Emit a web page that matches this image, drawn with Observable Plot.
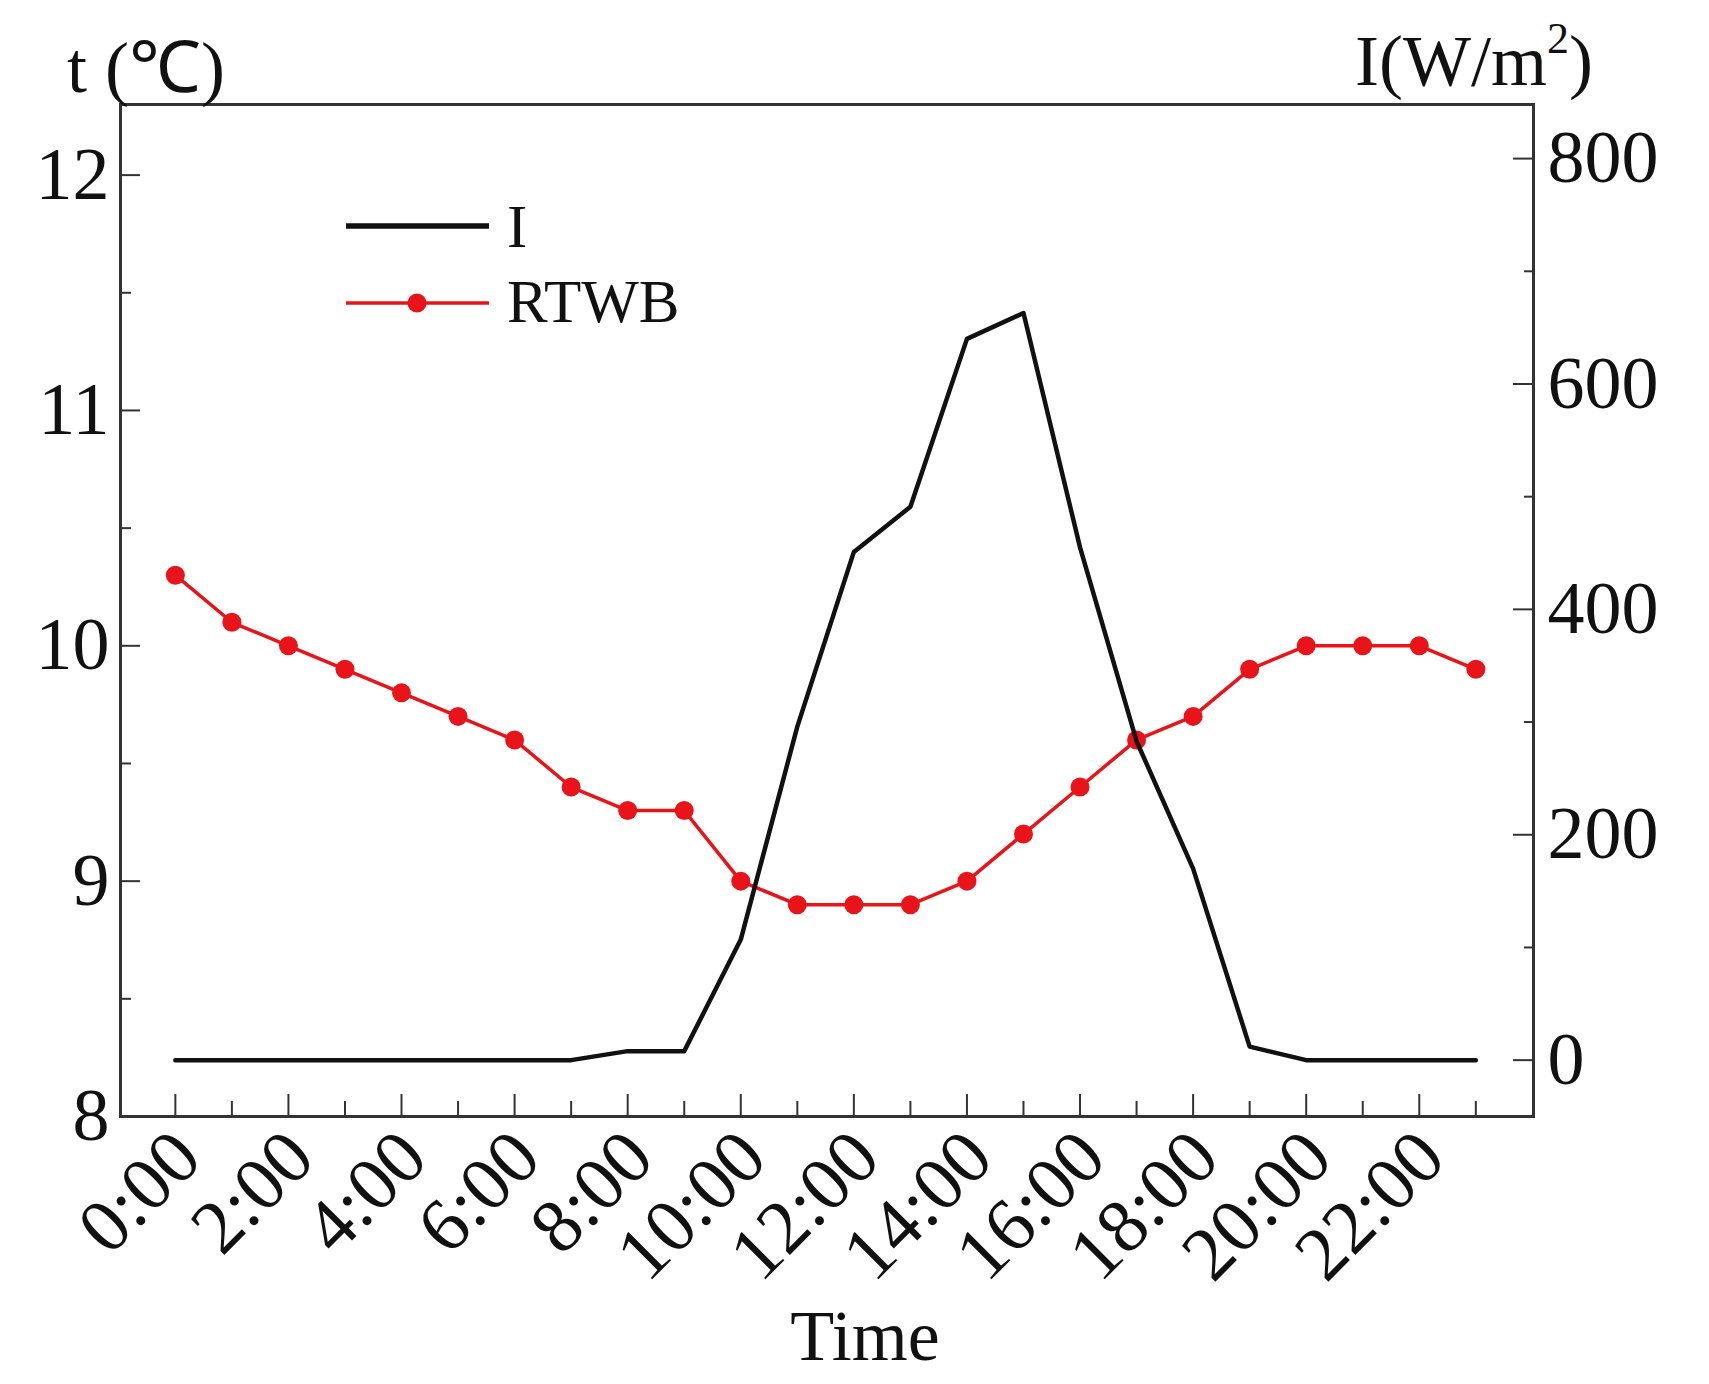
<!DOCTYPE html>
<html>
<head>
<meta charset="utf-8">
<script src="https://cdn.jsdelivr.net/npm/d3@7"></script>
<script src="https://cdn.jsdelivr.net/npm/@observablehq/plot@0.6"></script>
<style>
  body { margin: 0; background: #fff; }
  #chart svg { overflow: visible; }
</style>
</head>
<body>
<div id="chart"></div>
<script>
// hourly readings
const hours = d3.range(24)
const timeLabels = ["0:00", "2:00", "4:00", "6:00", "8:00", "10:00", "12:00", "14:00", "16:00", "18:00", "20:00", "22:00"]
const rtwb = [10.3, 10.1, 10.0, 9.9, 9.8, 9.7, 9.6, 9.4, 9.3, 9.3, 9.0, 8.9, 8.9, 8.9, 9.0, 9.2, 9.4, 9.6, 9.7, 9.9, 10.0, 10.0, 10.0, 9.9]
const irr = [0, 0, 0, 0, 0, 0, 0, 0, 8, 8, 107, 296, 451, 491, 640, 663, 455, 283, 170, 12, 0, 0, 0, 0]

const tTicks = [8, 9, 10, 11, 12]
const tMinor = [8.5, 9.5, 10.5, 11.5]
const iTicks = [0, 200, 400, 600, 800]
const iMinor = [100, 300, 500, 700]

// right axis (I) mapped onto the left (t) scale
const tDomain = [8, 12.3]
const toT = d3.scaleLinear().domain([-50, 848]).range(tDomain)

const red = '#e8141a'
const ink = '#111'
const evenHours = hours.filter(h => h % 2 == 0)
const oddHours = hours.filter(h => h % 2 == 1)

let chart = Plot.plot({
  width: 1709,
  height: 1384,
  marginLeft: 120,
  marginRight: 176,
  marginTop: 104,
  marginBottom: 268,
  style: {fontFamily: '"Liberation Serif", "Times New Roman", serif', fontSize: '74px', color: ink, background: '#fff'},
  x: {domain: [-0.97, 24.02], label: null},
  y: {domain: tDomain, label: null},
  marks: [
    // bottom ticks, inward
    Plot.axisX(evenHours, {tickSize: -22, tickFormat: () => '', label: null, stroke: '#333', strokeWidth: 2}),
    Plot.axisX(oddHours, {tickSize: -15, tickFormat: () => '', label: null, stroke: '#333', strokeWidth: 2}),
    Plot.axisX(evenHours, {
      tickSize: 0, tickPadding: 28, tickRotate: -45, label: null, fontSize: 76, dx: 12,
      tickFormat: h => timeLabels[h / 2]
    }),
    // left axis
    Plot.axisY(tTicks, {tickSize: -20, tickPadding: 31, label: null, tickFormat: d => String(d), stroke: '#333', strokeWidth: 2}),
    Plot.axisY(tMinor, {tickSize: -11, tickFormat: () => '', label: null, stroke: '#333', strokeWidth: 2}),
    // right axis
    Plot.axisY(iTicks.map(toT), {
      anchor: 'right', tickSize: -21, tickPadding: 35, label: null,
      tickFormat: d => String(Math.round(toT.invert(d)) + 0), stroke: '#333', strokeWidth: 2
    }),
    Plot.axisY(iMinor.map(toT), {anchor: 'right', tickSize: -10, tickFormat: () => '', label: null, stroke: '#333', strokeWidth: 2}),
    Plot.frame({stroke: '#333', strokeWidth: 3}),
    Plot.line(hours, {x: h => h, y: h => rtwb[h], stroke: red, strokeWidth: 3.5}),
    Plot.dot(hours, {x: h => h, y: h => rtwb[h], r: 9.5, fill: red}),
    Plot.line(hours, {x: h => h, y: h => toT(irr[h]), stroke: ink, strokeWidth: 4.5}),
  ],
})

const svg = d3.select(chart)
const txt = (x, y, s, size) => svg.append('text')
  .attr('x', x).attr('y', y).attr('font-size', size).attr('fill', ink)
  .attr('text-anchor', 'start').text(s)

// axis titles
txt(67, 92, 't (\u2103)', 72)
let it = txt(1355, 85, 'I(W/m', 72)
it.append('tspan').attr('font-size', 44).attr('dy', -32).text('2')
it.append('tspan').attr('dy', 32).text(')')
txt(865, 1360, 'Time', 72).attr('text-anchor', 'middle')

// legend
svg.append('line').attr('x1', 346).attr('x2', 489).attr('y1', 226).attr('y2', 226)
  .attr('stroke', ink).attr('stroke-width', 5.5)
txt(507, 247, 'I', 61)
svg.append('line').attr('x1', 346).attr('x2', 489).attr('y1', 303).attr('y2', 303)
  .attr('stroke', red).attr('stroke-width', 3.5)
svg.append('circle').attr('cx', 417).attr('cy', 303).attr('r', 9.5).attr('fill', red)
txt(507, 322, 'RTWB', 61)

d3.select('#chart').append(() => chart)
</script>
</body>
</html>
